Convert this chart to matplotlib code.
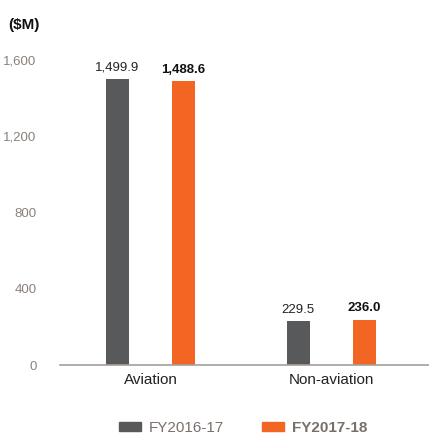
import matplotlib.pyplot as plt
from matplotlib.patches import Patch

plt.rcParams['font.family'] = ['Liberation Sans', 'DejaVu Sans']

# data
categories = ["Aviation", "Non-aviation"]
fy2017 = [1499.9, 229.5]
fy2018 = [1488.6, 236.0]
series_names = ["FY2016-17", "FY2017-18"]
yticks = [0, 400, 800, 1200, 1600]

gray = "#58595b"
orange = "#f26522"
tick_col = "#8a817c"

fig = plt.figure(figsize=(4.29, 4.37), dpi=100)
ax = fig.add_axes([60 / 429, 1 - 365 / 437, 1 - 60 / 429, (365 - 60) / 437])

x = list(range(len(categories)))
off = 0.183
w = 0.125
b1 = ax.bar([i - off for i in x], fy2017, width=w, color=gray)
b2 = ax.bar([i + off for i in x], fy2018, width=w, color=orange)

for rect, v in zip(b1, fy2017):
    ax.text(rect.get_x() + rect.get_width() / 2, v + 30, f"{v:,.1f}",
            ha="center", va="bottom", fontsize=9.5, color="#222222")
for rect, v in zip(b2, fy2018):
    ax.text(rect.get_x() + rect.get_width() / 2, v + 30, f"{v:,.1f}",
            ha="center", va="bottom", fontsize=9.5, color="#111111", fontweight="bold")

ax.set_xlim(-0.5, 1.54)
ax.set_ylim(0, 1600)
ax.set_yticks(yticks)
ax.set_yticklabels([f"{t:,}" for t in yticks], color=tick_col, fontsize=9.5)
ax.set_xticks(x)
ax.set_xticklabels(categories, fontsize=11, color="#222222")
ax.tick_params(axis="y", length=0, pad=17)
ax.tick_params(axis="x", length=0, pad=6)

for s in ["top", "right", "left"]:
    ax.spines[s].set_visible(False)
ax.spines["bottom"].set_color("#a59f9b")
ax.spines["bottom"].set_linewidth(1.2)

fig.text(8 / 429, 1 - 25 / 437, "($M)", fontsize=11, fontweight="bold",
         ha="left", va="center", color="#111111")

handles = [Patch(color=gray), Patch(color=orange)]
leg = fig.legend(handles, series_names, loc="center", bbox_to_anchor=(0.567, 1 - 428 / 437),
                 ncol=2, frameon=False, fontsize=11, handlelength=1.45, handleheight=0.55,
                 columnspacing=2.5, handletextpad=0.5)
for t in leg.get_texts():
    t.set_color("#7a706b")
leg.get_texts()[1].set_fontweight("bold")

fig.savefig("out.png", dpi=100)
